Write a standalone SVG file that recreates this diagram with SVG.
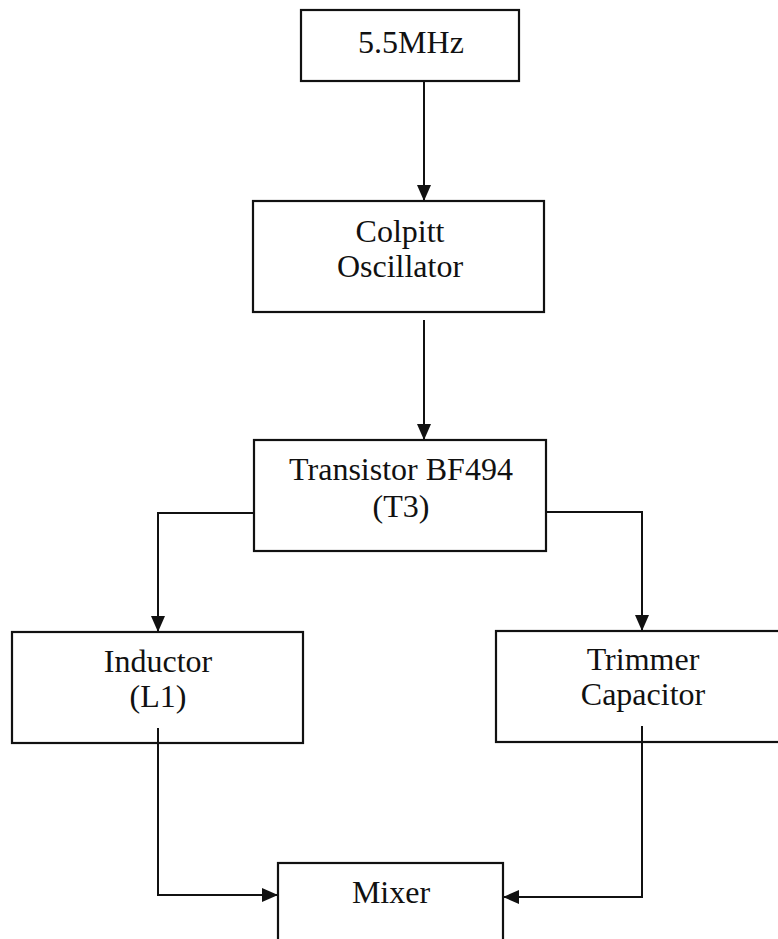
<svg xmlns="http://www.w3.org/2000/svg" width="778" height="939" viewBox="0 0 778 939">
<style>
.box{fill:#fff;stroke:#111;stroke-width:2.2}
.lbl{font-family:"Liberation Serif","Times New Roman",serif;font-size:32px;fill:#111;text-anchor:middle}
.wire{fill:none;stroke:#111;stroke-width:2}
</style>
<defs>
<marker id="ah" markerUnits="userSpaceOnUse" markerWidth="16" markerHeight="16" viewBox="0 0 16 16" refX="16" refY="8" orient="auto">
<path d="M0,1 L16,8 L0,15 Z" fill="#111"/>
</marker>
</defs>
<rect width="778" height="939" fill="#fff"/>
<g id="connectors">
<path class="wire" d="M424,81 V201" marker-end="url(#ah)"/>
<path class="wire" d="M424,320 V440" marker-end="url(#ah)"/>
<path class="wire" d="M254,513 H158 V632" marker-end="url(#ah)"/>
<path class="wire" d="M546,512 H642 V631" marker-end="url(#ah)"/>
<path class="wire" d="M158,728 V895 H278" marker-end="url(#ah)"/>
<path class="wire" d="M642,726 V897 H503" marker-end="url(#ah)"/>
</g>
<g id="n1">
<rect class="box" x="301" y="10" width="218" height="71"/>
<text class="lbl" x="411" y="53">5.5MHz</text>
</g>
<g id="n2">
<rect class="box" x="253" y="201" width="291" height="111"/>
<text class="lbl" x="400" y="242">Colpitt</text>
<text class="lbl" x="400" y="277">Oscillator</text>
</g>
<g id="n3">
<rect class="box" x="254" y="440" width="292" height="111"/>
<text class="lbl" x="401" y="480">Transistor BF494</text>
<text class="lbl" x="401" y="517">(T3)</text>
</g>
<g id="n4">
<rect class="box" x="12" y="632" width="291" height="111"/>
<text class="lbl" x="158" y="672">Inductor</text>
<text class="lbl" x="158" y="707">(L1)</text>
</g>
<g id="n5">
<rect class="box" x="496" y="631" width="300" height="111"/>
<text class="lbl" x="643" y="670">Trimmer</text>
<text class="lbl" x="643" y="705">Capacitor</text>
</g>
<g id="n6">
<rect class="box" x="278" y="863" width="225" height="100"/>
<text class="lbl" x="391" y="903">Mixer</text>
</g>
<path class="wire" d="M158,728 V743 M642,726 V742"/>
</svg>
